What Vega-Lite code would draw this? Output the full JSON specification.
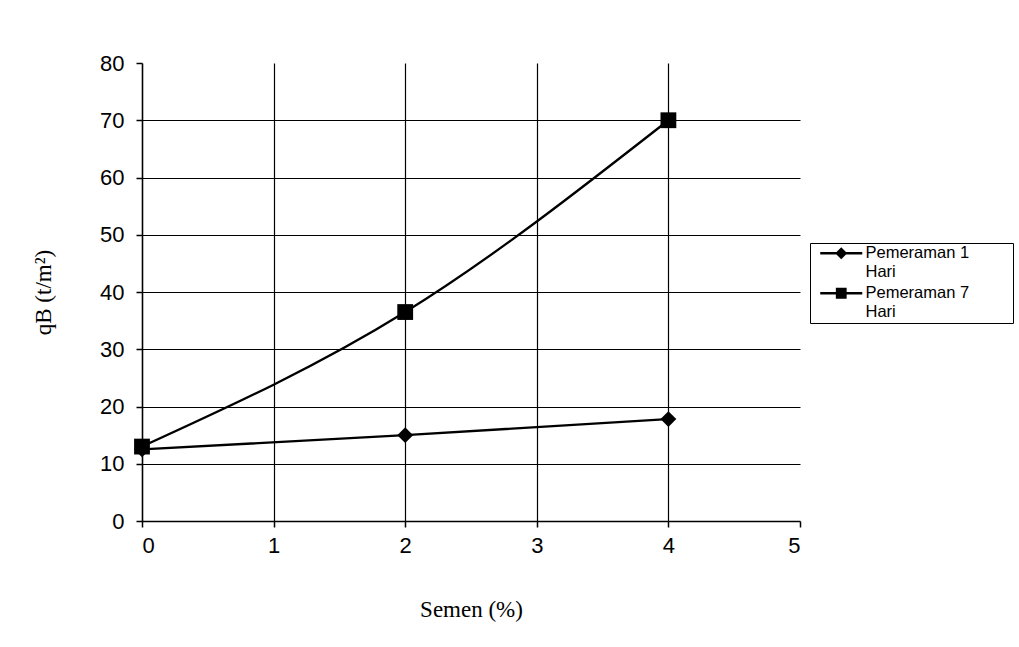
{
  "$schema": "https://vega.github.io/schema/vega-lite/v6.json",
  "width": 658,
  "height": 458,
  "autosize": {"type": "none"},
  "padding": {"left": 142, "top": 63, "right": 219, "bottom": 126},
  "background": "white",
  "config": {
    "view": {"stroke": null},
    "axis": {
      "domainColor": "black",
      "domainWidth": 1.6,
      "tickColor": "black",
      "tickWidth": 1.5,
      "tickSize": 6,
      "gridColor": "black",
      "gridWidth": 1.2,
      "labelColor": "black",
      "labelFont": "Liberation Sans, Arial, sans-serif",
      "labelFontSize": 22,
      "titleColor": "black",
      "titleFont": "Liberation Serif, Times New Roman, serif",
      "titleFontSize": 23,
      "titleFontWeight": "normal"
    },
    "legend": {
      "labelFont": "Liberation Sans, Arial, sans-serif",
      "labelFontSize": 16.5,
      "labelColor": "black"
    }
  },
  "data": {
    "values": [
      {"semen": 0, "qb": 12.5, "series": "Pemeraman 1 Hari"},
      {"semen": 2, "qb": 15.0, "series": "Pemeraman 1 Hari"},
      {"semen": 4, "qb": 17.8, "series": "Pemeraman 1 Hari"},
      {"semen": 0, "qb": 13.0, "series": "Pemeraman 7 Hari"},
      {"semen": 2, "qb": 36.5, "series": "Pemeraman 7 Hari"},
      {"semen": 4, "qb": 70.0, "series": "Pemeraman 7 Hari"}
    ]
  },
  "encoding": {
    "x": {
      "field": "semen",
      "type": "quantitative",
      "scale": {"domain": [0, 5], "nice": false},
      "axis": {
        "values": [0, 1, 2, 3, 4, 5],
        "format": "d",
        "grid": true,
        "gridOpacity": {"condition": {"test": "datum.value == 0 || datum.value == 5", "value": 0}, "value": 1},
        "labelPadding": 8,
        "title": "Semen (%)",
        "titlePadding": 42
      }
    },
    "y": {
      "field": "qb",
      "type": "quantitative",
      "scale": {"domain": [0, 80], "nice": false},
      "axis": {
        "values": [0, 10, 20, 30, 40, 50, 60, 70, 80],
        "format": "d",
        "grid": true,
        "gridOpacity": {"condition": {"test": "datum.value == 0 || datum.value == 80", "value": 0}, "value": 1},
        "labelPadding": 12,
        "title": "qB (t/m²)",
        "titlePadding": 44
      }
    }
  },
  "layer": [
    {
      "mark": {"type": "line", "interpolate": "monotone", "color": "black", "strokeWidth": 2.3},
      "encoding": {"detail": {"field": "series", "type": "nominal"}}
    },
    {
      "mark": {"type": "point", "filled": true, "color": "black", "size": 250, "opacity": 1},
      "encoding": {
        "shape": {
          "field": "series",
          "type": "nominal",
          "scale": {"range": ["diamond", "square"]},
          "legend": null
        }
      }
    },
    {
      "mark": {"type": "point", "filled": true, "color": "black", "opacity": 0},
      "encoding": {
        "shape": {
          "field": "series",
          "type": "nominal",
          "scale": {
            "range": [
              "M0,-0.15H5.25V0.15H0ZM2.625,-0.75L3.375,0L2.625,0.75L1.875,0Z",
              "M0,-0.15H5.25V0.15H0ZM1.95,-0.68H3.3V0.68H1.95Z"
            ]
          },
          "legend": {
            "title": null,
            "orient": "none",
            "legendX": 668,
            "legendY": 180,
            "padding": 2,
            "strokeColor": "black",
            "fillColor": "white",
            "symbolSize": 256,
            "symbolOpacity": 1,
            "symbolFillColor": "black",
            "symbolStrokeWidth": 0,
            "rowPadding": 4,
            "labelOffset": 37,
            "labelLimit": 300,
            "labelExpr": "datum.label == 'Pemeraman 1 Hari' ? ['Pemeraman 1\u00a0\u00a0\u00a0\u00a0\u00a0\u00a0\u00a0\u00a0\u00a0\u200b', 'Hari'] : ['Pemeraman 7', 'Hari']"
          }
        }
      }
    }
  ],
  "resolve": {"scale": {"shape": "independent"}}
}
